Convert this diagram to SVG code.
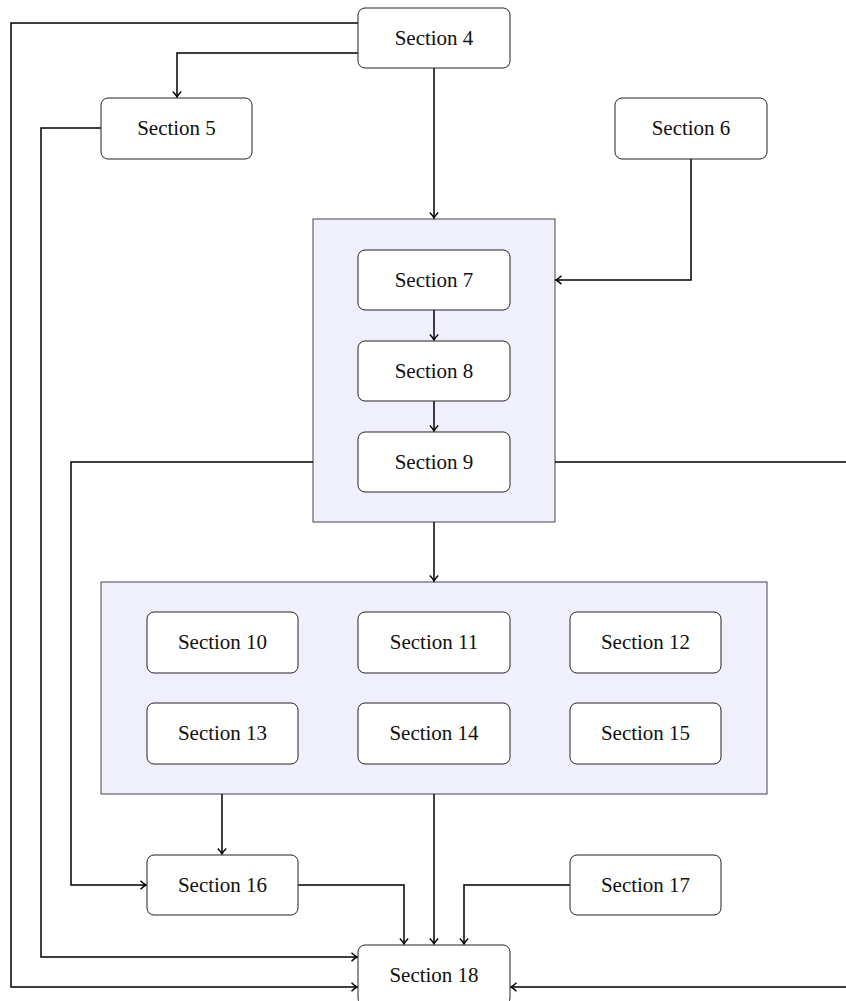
<svg xmlns="http://www.w3.org/2000/svg" width="846" height="1001" viewBox="0 0 846 1001">
<style>
.n rect{fill:#fff;stroke:#222;stroke-width:1}
.n text,.t{font-family:"Liberation Serif",serif;font-size:21px;fill:#111;text-anchor:middle}
.c{fill:#f0f0fc;stroke:#444;stroke-width:1}
.e path{fill:none;stroke:#000;stroke-width:1.5}
</style>
<defs>
<marker id="a" markerWidth="12" markerHeight="12" refX="10" refY="6" orient="auto" markerUnits="userSpaceOnUse">
<path d="M4.5,1.8 Q8,5.2 10,6 Q8,6.8 4.5,10.2" fill="none" stroke="#000" stroke-width="1.4"/>
</marker>
</defs>
<g id="cluster1"><rect class="c" x="313" y="219" width="242" height="303"/></g>
<g id="cluster2"><rect class="c" x="101" y="582" width="666" height="212"/></g>
<g id="edges" class="e">
<path d="M358,23 H11 V987 H357" marker-end="url(#a)"/>
<path d="M358,53 H177 V97" marker-end="url(#a)"/>
<path d="M101,128 H41 V957 H357" marker-end="url(#a)"/>
<path d="M434,68 V218" marker-end="url(#a)"/>
<path d="M691,159 V280 H556" marker-end="url(#a)"/>
<path d="M434,310 V340" marker-end="url(#a)"/>
<path d="M434,401 V431" marker-end="url(#a)"/>
<path d="M313,462 H71 V885 H146" marker-end="url(#a)"/>
<path d="M555,462 H850 V987 H511" marker-end="url(#a)"/>
<path d="M434,522 V581" marker-end="url(#a)"/>
<path d="M222,794 V854" marker-end="url(#a)"/>
<path d="M434,794 V944" marker-end="url(#a)"/>
<path d="M298,885 H404 V944" marker-end="url(#a)"/>
<path d="M570,885 H464 V944" marker-end="url(#a)"/>
</g>
<g id="n4" class="n"><rect x="358" y="8" width="152" height="60" rx="7"/><text x="434" y="45">Section 4</text></g>
<g id="n5" class="n"><rect x="101" y="98" width="151" height="61" rx="7"/><text x="176.5" y="135">Section 5</text></g>
<g id="n6" class="n"><rect x="615" y="98" width="152" height="61" rx="7"/><text x="691" y="135">Section 6</text></g>
<g id="n7" class="n"><rect x="358" y="250" width="152" height="60" rx="7"/><text x="434" y="287">Section 7</text></g>
<g id="n8" class="n"><rect x="358" y="341" width="152" height="60" rx="7"/><text x="434" y="378">Section 8</text></g>
<g id="n9" class="n"><rect x="358" y="432" width="152" height="60" rx="7"/><text x="434" y="469">Section 9</text></g>
<g id="n10" class="n"><rect x="147" y="612" width="151" height="61" rx="7"/><text x="222.5" y="649">Section 10</text></g>
<g id="n11" class="n"><rect x="358" y="612" width="152" height="61" rx="7"/><text x="434" y="649">Section 11</text></g>
<g id="n12" class="n"><rect x="570" y="612" width="151" height="61" rx="7"/><text x="645.5" y="649">Section 12</text></g>
<g id="n13" class="n"><rect x="147" y="703" width="151" height="61" rx="7"/><text x="222.5" y="740">Section 13</text></g>
<g id="n14" class="n"><rect x="358" y="703" width="152" height="61" rx="7"/><text x="434" y="740">Section 14</text></g>
<g id="n15" class="n"><rect x="570" y="703" width="151" height="61" rx="7"/><text x="645.5" y="740">Section 15</text></g>
<g id="n16" class="n"><rect x="147" y="855" width="151" height="60" rx="7"/><text x="222.5" y="892">Section 16</text></g>
<g id="n17" class="n"><rect x="570" y="855" width="151" height="60" rx="7"/><text x="645.5" y="892">Section 17</text></g>
<g id="n18" class="n"><rect x="358" y="945" width="152" height="60" rx="7"/><text x="434" y="982">Section 18</text></g>
</svg>
